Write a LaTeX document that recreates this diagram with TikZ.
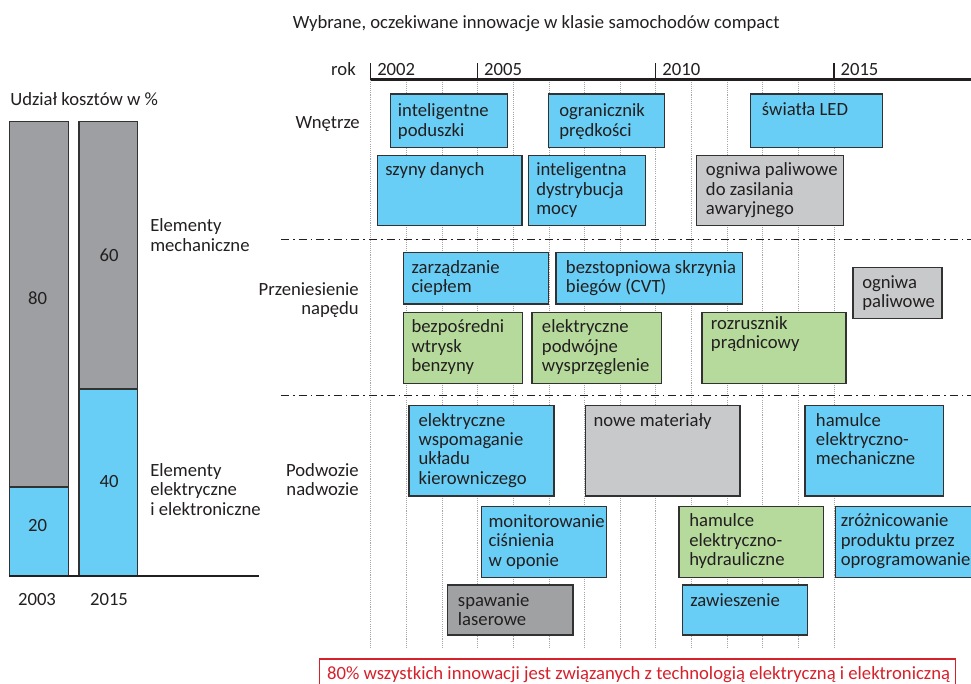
\documentclass[tikz,border=0pt]{standalone}
\usepackage{fontspec}
\setmainfont{Carlito}
\definecolor{txtcol}{RGB}{35,31,32}
\definecolor{elblue}{RGB}{105,206,245}
\definecolor{mechgray}{RGB}{157,159,162}
\definecolor{lightgray}{RGB}{200,201,203}
\definecolor{darkgray}{RGB}{160,161,163}
\definecolor{elgreen}{RGB}{181,218,155}
\definecolor{edgecol}{RGB}{50,50,50}
\definecolor{gridcol}{RGB}{165,165,165}
\definecolor{alertred}{RGB}{214,32,42}

\tikzset{
  lbl/.style={inner sep=0pt, text=txtcol, font=\fontsize{14}{14.6}\selectfont},
  ibox/.style={draw=edgecol, line width=1pt},
  bluebox/.style={ibox, fill=elblue},
  greenbox/.style={ibox, fill=elgreen},
  lgraybox/.style={ibox, fill=lightgray},
  dgraybox/.style={ibox, fill=darkgray},
  bar/.style={draw=edgecol, line width=0.8pt},
  gridline/.style={draw=gridcol, line width=0.5pt, dash pattern=on 0.8pt off 0.8pt},
  sepline/.style={draw=txtcol, line width=0.8pt, dash pattern=on 6pt off 3pt on 1.2pt off 3pt},
  majortick/.style={draw=txtcol, line width=0.8pt},
}

% box with its caption set top-left: name, style, x1, y1, x2, y2, text x, first baseline y, text
\newcommand\innobox[9]{%
  \draw[#2] (#3,#4) rectangle (#5,#6);
  \node[lbl, anchor=base west] (#1) at (#7,#8) {\parbox[t]{170pt}{\raggedright #9}};
}

\begin{document}
\begin{tikzpicture}[x=0.75pt, y=-0.75pt]
\clip (0,0) rectangle (971,683);

% ---------- cost share bars ----------
\node[lbl, anchor=base west] (udzial) at (10,105) {Udział kosztów w \%};
\draw[bar, fill=mechgray] (9.3,121.7) rectangle (68.3,487);
\draw[bar, fill=elblue] (9.3,487) rectangle (68.3,576);
\draw[bar, fill=mechgray] (79,121.7) rectangle (137.7,389);
\draw[bar, fill=elblue] (79,389) rectangle (137.7,576);
\draw[txtcol, line width=1.8pt] (9.3,576) -- (259,576);
\node[lbl, anchor=base] (v80) at (37.5,304) {80};
\node[lbl, anchor=base] (v20) at (37.5,531.7) {20};
\node[lbl, anchor=base] (v60) at (109,261.7) {60};
\node[lbl, anchor=base] (v40) at (109,487.6) {40};
\node[lbl, anchor=base] (y2003) at (37,605) {2003};
\node[lbl, anchor=base] (y2015) at (109,605) {2015};
\node[lbl, anchor=base west] (mech) at (150,231.7)
  {\parbox[t]{120pt}{\raggedright Elementy\\mechaniczne}};
\node[lbl, anchor=base west] (elek) at (150,476.5)
  {\parbox[t]{120pt}{\raggedright Elementy\\elektryczne\\i elektroniczne}};

% ---------- timeline ----------
\node[lbl, anchor=base west] (title) at (292.7,28.3)
  {Wybrane, oczekiwane innowacje w klasie samochodów compact};
\foreach \k in {0,...,13}
  \draw[gridline] (370.7+35.64*\k,79.5) -- (370.7+35.64*\k,648);
\draw[txtcol, line width=1.6pt] (370.7,79.5) -- (971,79.5);
\node[lbl, anchor=base east] (rok) at (356,75) {rok};
\foreach \k/\yr in {0/2002,3/2005,8/2010,13/2015} {
  \draw[majortick] (370.7+35.64*\k,63) -- (370.7+35.64*\k,79.5);
  \node[lbl, anchor=base west] (yr\yr) at (377+35.64*\k,75) {\yr};
}

% row separators
\draw[sepline] (281,239.3) -- (971,239.3);
\draw[sepline] (281,395.7) -- (971,395.7);

% row captions
\node[lbl, anchor=base east] (wnetrze) at (360,128) {Wnętrze};
\node[lbl, anchor=base east] (naped) at (359,295)
  {\parbox[t]{110pt}{\raggedleft Przeniesienie\\napędu}};
\node[lbl, anchor=base east] (podwozie) at (359,476)
  {\parbox[t]{110pt}{\raggedleft Podwozie\\nadwozie}};

% interior
\innobox{poduszki}{bluebox}{390.7}{94}{507.3}{147.3}{397.7}{116.7}{inteligentne\\poduszki}
\innobox{ogranicznik}{bluebox}{548.3}{94}{664.7}{147.3}{559}{116.7}{ogranicznik\\prędkości}
\innobox{led}{bluebox}{750.7}{94}{882.3}{147.3}{761.7}{115.7}{światła LED}
\innobox{szyny}{bluebox}{377.3}{155.3}{522}{225.7}{385}{175}{szyny danych}
\innobox{dystrybucja}{bluebox}{528.7}{155.3}{645.3}{225.7}{536}{175.7}{inteligentna\\dystrybucja\\mocy}
\innobox{ogniwaaw}{lgraybox}{696.3}{155.3}{843.7}{225.7}{705.7}{175.7}{ogniwa paliwowe\\do zasilania\\awaryjnego}

% drive train
\innobox{cieplo}{bluebox}{403.7}{252.3}{548.7}{304}{411.3}{273.3}{zarządzanie\\ciepłem}
\innobox{cvt}{bluebox}{556}{252.3}{742.3}{304}{565.7}{273.3}{bezstopniowa skrzynia\\biegów (CVT)}
\innobox{wtrysk}{greenbox}{403.7}{312.7}{522.3}{383.3}{411.3}{332.7}{bezpośredni\\wtrysk\\benzyny}
\innobox{sprzeglo}{greenbox}{532}{312.7}{661.3}{383.3}{541.7}{332.7}{elektryczne\\podwójne\\wysprzęglenie}
\innobox{rozrusznik}{greenbox}{702}{312.7}{846}{383.3}{710.7}{329.3}{rozrusznik\\prądnicowy}
\innobox{ogniwa}{lgraybox}{853}{267.3}{942}{318.3}{862}{288.3}{ogniwa\\paliwowe}

% chassis and body
\innobox{kierownica}{bluebox}{409}{405.7}{554}{496}{418.3}{426}{elektryczne\\wspomaganie\\układu\\kierowniczego}
\innobox{materialy}{lgraybox}{585.7}{405.7}{740}{496}{593.3}{426}{nowe materiały}
\innobox{hammech}{bluebox}{805}{405.7}{943.3}{496}{815.7}{426}{hamulce\\elektryczno-\\mechaniczne}
\innobox{opony}{bluebox}{481.3}{506.7}{606.7}{577.3}{488.3}{527.3}{monitorowanie\\ciśnienia\\w oponie}
\innobox{hamhydr}{greenbox}{679}{506.7}{823.7}{577.3}{689}{526.7}{hamulce\\elektryczno-\\hydrauliczne}
\innobox{soft}{bluebox}{835.3}{506.7}{990}{577.3}{840.5}{526.7}{zróżnicowanie\\produktu przez\\oprogramowanie}
\innobox{spawanie}{dgraybox}{447.3}{585}{573}{635}{457.7}{606}{spawanie\\laserowe}
\innobox{zawieszenie}{bluebox}{682.3}{585}{807.3}{635}{690}{606}{zawieszenie}

% summary note
\draw[draw=alertred, line width=1pt] (319.3,659) rectangle (955.6,695);
\node[lbl, text=alertred, anchor=base west] (note) at (326.9,679)
  {80\% wszystkich innowacji jest związanych z technologią elektryczną i elektroniczną};
\end{tikzpicture}
\end{document}
